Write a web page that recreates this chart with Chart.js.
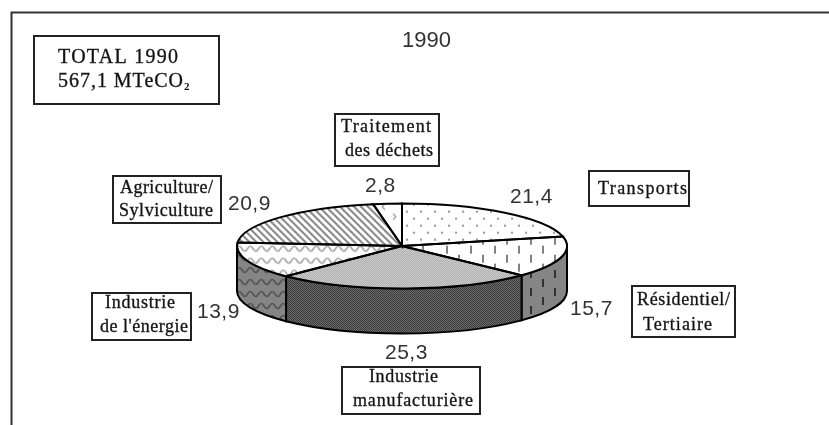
<!DOCTYPE html>
<html lang="fr">
<head>
<meta charset="UTF-8" />
<title>Emissions 1990</title>
<script src="https://cdn.jsdelivr.net/npm/chart.js"></script>
<style>
  body { margin: 0; background: #fff; }
  canvas { display: block; }
</style>
</head>
<body>
<canvas id="pie" width="829" height="425"></canvas>
<script>
// data, clockwise from 12 o'clock
const sectors = ["Transports", "Résidentiel/Tertiaire", "Industrie manufacturière", "Industrie de l'énergie", "Agriculture/Sylviculture", "Traitement des déchets"];
const shares = [21.4, 15.7, 25.3, 13.9, 20.9, 2.8];
const chartTitle = "1990";
const totalLines = ["TOTAL 1990", "567,1 MTeCO"];

// fake 3D: top face squashed by tilt, wall of given height below it
const tilt = 0.2576;
const depth = 45;

// where the printed value of each sector goes [x, baseline]
const valuePos = [[510, 203], [570, 315], [385, 359], [197, 318], [228, 210], [365, 192]];

// boxed captions: box x, y, w, h then text lines [text, x, baseline, width]
const boxes = [
  { r: [589, 171, 100, 35], lines: [["Transports", 598, 194, 89]] },
  { r: [632, 286, 103, 51], lines: [["Résidentiel/", 637, 305, 93], ["Tertiaire", 643, 330, 69]] },
  { r: [342, 367, 138, 47], lines: [["Industrie", 369, 382, 69], ["manufacturière", 353, 406, 120]] },
  { r: [92, 293, 99, 47], lines: [["Industrie", 105, 308, 70], ["de l'énergie", 100, 332, 88]] },
  { r: [113, 176, 108, 47], lines: [["Agriculture/", 120, 193, 93], ["Sylviculture", 119, 216, 94]] },
  { r: [335, 114, 104, 52], lines: [["Traitement", 341, 132, 90], ["des déchets", 345, 156, 88]] }
];

// small tiles for the old-school hatch fills
function tile(w, h, bg, paint) {
  const c = document.createElement("canvas");
  c.width = w;
  c.height = h;
  const x = c.getContext("2d");
  x.fillStyle = bg;
  x.fillRect(0, 0, w, h);
  paint(x);
  return x.createPattern(c, "repeat");
}
function dots(col) {
  return (x) => {
    x.fillStyle = col;
    x.fillRect(0, 0, 2, 2);
    x.fillRect(7, 7, 2, 2);
  };
}
function dashes(col) {
  return (x) => {
    x.fillStyle = col;
    x.fillRect(2, 0, 2, 8);
    x.fillRect(14, 9, 2, 8);
  };
}
function checker(col) {
  return (x) => {
    x.fillStyle = col;
    x.fillRect(0, 0, 1, 1);
    x.fillRect(1, 1, 1, 1);
  };
}
function waves(col) {
  return (x) => {
    x.strokeStyle = col;
    x.lineWidth = 1.7;
    x.beginPath();
    x.moveTo(-5.5, 6);
    x.quadraticCurveTo(-2.75, 1, 0, 6);
    x.quadraticCurveTo(2.75, 11, 5.5, 6);
    x.quadraticCurveTo(8.25, 1, 11, 6);
    x.quadraticCurveTo(13.75, 11, 16.5, 6);
    x.stroke();
  };
}
function stripes(col) {
  return (x) => {
    x.fillStyle = col;
    for (let i = 0; i < 7; i++) {
      x.fillRect(i, i, 3, 1);
      if (i > 4) x.fillRect(i - 7, i, 3, 1);
    }
  };
}
function chevrons(col) {
  return (x) => {
    x.strokeStyle = col;
    x.lineWidth = 1.2;
    x.beginPath();
    x.moveTo(5, 1); x.lineTo(2, 4); x.lineTo(5, 7);
    x.moveTo(13, 11); x.lineTo(16, 14); x.lineTo(13, 17);
    x.stroke();
  };
}

const topFills = [
  tile(14, 14, "#fff", dots("#999")),
  tile(24, 18, "#fff", dashes("#808080")),
  tile(2, 2, "#dcdcdc", checker("#a0a0a0")),
  tile(11, 12, "#fff", waves("#a8a8a8")),
  tile(7, 7, "#fff", stripes("#8c8c8c")),
  tile(20, 20, "#fff", chevrons("#999"))
];
const wallFills = [
  tile(14, 14, "#bbb", dots("#444")),
  tile(24, 18, "#858585", dashes("#333")),
  tile(2, 2, "#6a6a6a", checker("#3c3c3c")),
  tile(11, 12, "#858585", waves("#555")),
  tile(7, 7, "#999", stripes("#333")),
  tile(20, 20, "#aaa", chevrons("#333"))
];
// the canvas is squashed while the arcs are drawn, keep the tiles undistorted
topFills.forEach((p) => p.setTransform(new DOMMatrix().scale(1, 1 / tilt)));

// text with a hair of stroke, the scan's serif is heavy, spaced out to a set width
function fitText(ctx, text, x, y, width) {
  ctx.letterSpacing = "0px";
  const spare = width - ctx.measureText(text).width;
  ctx.letterSpacing = spare / (text.length - 1) + "px";
  ctx.fillText(text, x, y);
  ctx.strokeText(text, x, y);
}

const piePlugin = {
  id: "pie3d",
  beforeDatasetsDraw(chart) {
    const ctx = chart.ctx;
    const arcs = chart.getDatasetMeta(0).data;
    const cx = arcs[0].x, cy = arcs[0].y;
    const rx = arcs[0].outerRadius, ry = rx * tilt;

    // wall: only the front half of the circle shows
    arcs.forEach((arc, i) => {
      const a = Math.max(arc.startAngle, 0);
      const b = Math.min(arc.endAngle, Math.PI);
      if (b <= a) return;
      ctx.beginPath();
      ctx.ellipse(cx, cy, rx, ry, 0, a, b);
      ctx.ellipse(cx, cy + depth, rx, ry, 0, b, a, true);
      ctx.closePath();
      ctx.fillStyle = wallFills[i];
      ctx.fill();
      ctx.strokeStyle = "#000";
      ctx.lineWidth = 2;
      ctx.stroke();
    });

    ctx.save();
    ctx.translate(cx, cy);
    ctx.scale(1, tilt);
    ctx.translate(-cx, -cy);
  },
  afterDatasetsDraw(chart) {
    const ctx = chart.ctx;
    ctx.restore();

    const arcs = chart.getDatasetMeta(0).data;
    const cx = arcs[0].x, cy = arcs[0].y;
    const rx = arcs[0].outerRadius, ry = rx * tilt;
    ctx.strokeStyle = "#000";
    ctx.lineWidth = 2;
    arcs.forEach((arc) => {
      ctx.beginPath();
      ctx.moveTo(cx, cy);
      ctx.ellipse(cx, cy, rx, ry, 0, arc.startAngle, arc.endAngle);
      ctx.closePath();
      ctx.stroke();
    });
  },
  afterDraw(chart) {
    const ctx = chart.ctx;
    ctx.save();

    // outer frame, no right or bottom side in the scan
    ctx.strokeStyle = "#333";
    ctx.lineWidth = 2;
    ctx.beginPath();
    ctx.moveTo(11.5, 425);
    ctx.lineTo(11.5, 12.5);
    ctx.lineTo(829, 12.5);
    ctx.stroke();

    ctx.fillStyle = "#333";
    ctx.textAlign = "left";
    ctx.textBaseline = "alphabetic";

    ctx.font = '22px "Liberation Sans"';
    ctx.fillText(chartTitle, 402, 47);

    ctx.font = '21px "Liberation Sans"';
    ctx.letterSpacing = "0.5px";
    shares.forEach((v, i) => {
      const s = String(v).replace(".", ",");
      ctx.fillText(s, valuePos[i][0], valuePos[i][1]);
    });
    ctx.letterSpacing = "0px";

    // total box
    ctx.fillStyle = "#111";
    ctx.strokeStyle = "#222";
    ctx.lineWidth = 2;
    ctx.strokeRect(34, 36, 185, 68);
    ctx.lineWidth = 0.35;
    ctx.font = '20px "Liberation Serif"';
    fitText(ctx, totalLines[0], 58, 63, 120);
    fitText(ctx, totalLines[1], 58, 87, 125);
    ctx.letterSpacing = "0px";
    ctx.font = 'bold 11px "Liberation Serif"';
    ctx.fillText("2", 184, 90);

    // captions
    ctx.font = '18px "Liberation Serif"';
    boxes.forEach((b) => {
      ctx.lineWidth = 2;
      ctx.strokeRect(b.r[0], b.r[1], b.r[2], b.r[3]);
      ctx.lineWidth = 0.35;
      b.lines.forEach((l) => fitText(ctx, l[0], l[1], l[2], l[3]));
    });
    ctx.restore();
  }
};

new Chart(document.getElementById("pie").getContext("2d"), {
  type: "pie",
  data: {
    labels: sectors,
    datasets: [{ data: shares, backgroundColor: topFills, borderWidth: 0 }]
  },
  options: {
    responsive: false,
    animation: false,
    // puts the centre at (402, 246) with a 165 radius
    layout: { padding: { left: 237, right: 262, top: 81, bottom: 14 } },
    plugins: { legend: { display: false }, tooltip: { enabled: false } }
  },
  plugins: [piePlugin]
});
</script>
</body>
</html>
